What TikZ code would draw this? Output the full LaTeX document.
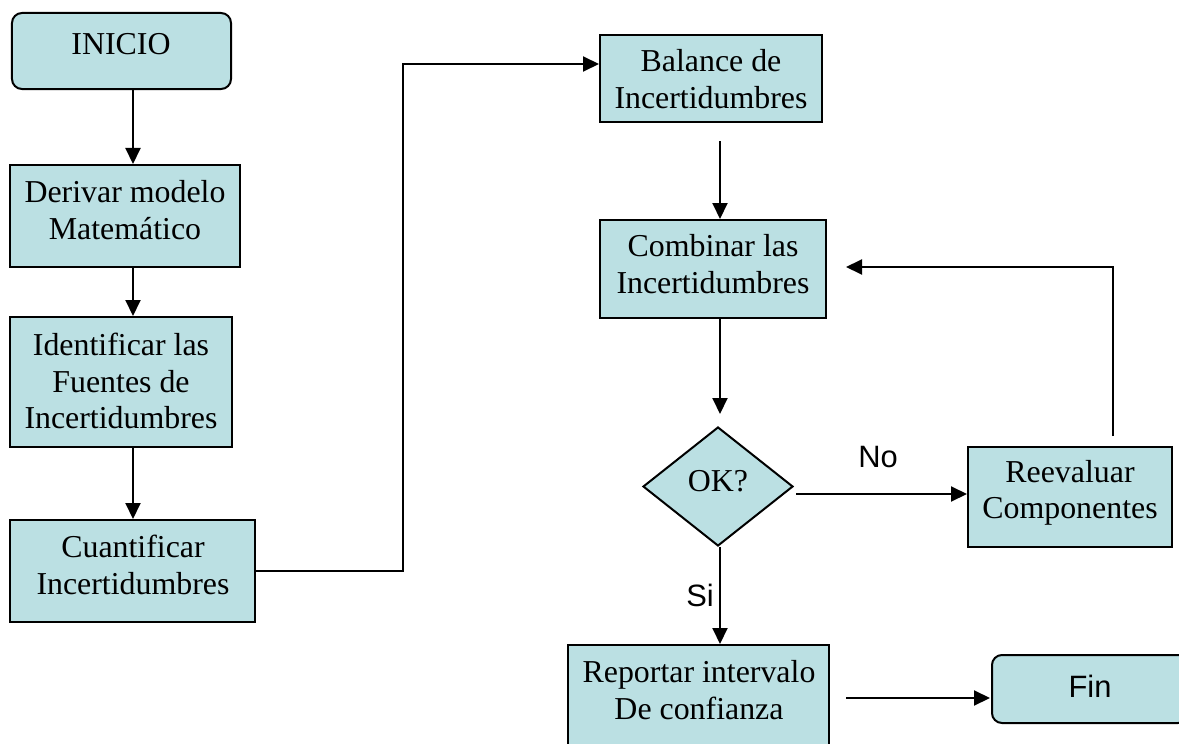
\documentclass[tikz,border=0pt]{standalone}
\usepackage{fontspec}
\setmainfont{Liberation Serif}
\setsansfont{Liberation Sans}
\usetikzlibrary{arrows.meta,shapes.geometric,calc}
\definecolor{boxfill}{RGB}{187,224,227}
\tikzset{
  box/.style={draw=black,fill=boxfill,line width=2bp,inner sep=0pt,rectangle},
  rbox/.style={box,rounded corners=10bp},
  dia/.style={draw=black,fill=boxfill,line width=2bp,inner sep=0pt,diamond},
  txt/.style={align=center,inner sep=0pt,font=\fontsize{32}{36.5}\selectfont},
  stxt/.style={inner sep=0pt,font=\sffamily\fontsize{31}{36}\selectfont},
  arr/.style={line width=2bp,-{Triangle[length=16bp,width=15bp]}},
  ln/.style={line width=2bp}
}
\begin{document}
\begin{tikzpicture}[x=1bp,y=-1bp]
\useasboundingbox (0,0) rectangle (1179,744);
\clip (0,0) rectangle (1179,744);
% boxes
\node[rbox,minimum width=219bp,minimum height=76bp] (inicio) at (121.5,51) {};
\node[box,minimum width=230bp,minimum height=102bp] (derivar) at (125,216) {};
\node[box,minimum width=222bp,minimum height=130bp] (ident) at (121,382) {};
\node[box,minimum width=245bp,minimum height=102bp] (cuant) at (132.5,571) {};
\node[box,minimum width=222bp,minimum height=87bp] (balance) at (711,78.5) {};
\node[box,minimum width=226bp,minimum height=98bp] (comb) at (713,269) {};
\node[dia,minimum width=150bp,minimum height=119bp] (ok) at (718,486.5) {};
\node[box,minimum width=204bp,minimum height=100bp] (reev) at (1070,497) {};
\node[box,minimum width=261bp,minimum height=150bp] (report) at (698.5,720) {};
\node[rbox,minimum width=196bp,minimum height=68bp] (fin) at (1090,689) {};
% texts
\node[txt] (tinicio) at (121,44) {INICIO};
\node[txt] (tderivar) at (125,210) {Derivar modelo\\Matemático};
\node[txt] (tident) at (121,381) {Identificar las\\Fuentes de\\Incertidumbres};
\node[txt] (tcuant) at (133,565) {Cuantificar\\Incertidumbres};
\node[txt] (tbalance) at (711,79) {Balance de\\Incertidumbres};
\node[txt] (tcomb) at (713,264) {Combinar las\\Incertidumbres};
\node[txt] (tok) at (718,481) {OK?};
\node[txt] (treev) at (1070,493) {Reevaluar\\Componentes};
\node[txt] (treport) at (699,690) {Reportar intervalo\\De confianza};
\node[stxt] (tfin) at (1090,686) {Fin};
\node[stxt] (tno) at (878,457) {No};
\node[stxt] (tsi) at (700,595) {Si};
% helper coordinates
\coordinate (xl) at (133,0);
\coordinate (xr) at (720,0);
\coordinate (xc) at (403,0);
\coordinate (yb) at (0,64);
\coordinate (yno) at (0,494);
\coordinate (xloop) at (1113,0);
\coordinate (yloop) at (0,267);
\coordinate (yrep) at (0,698);
% connectors
\draw[arr] (inicio.south -| xl) -- (derivar.north -| xl);
\draw[arr] (derivar.south -| xl) -- (ident.north -| xl);
\draw[arr] (ident.south -| xl) -- (cuant.north -| xl);
\draw[arr] (cuant.east) -- (cuant.east -| xc) -- (yb -| xc) -- (yb -| balance.west);
\draw[arr] ($(balance.south -| xr)+(0,18)$) -- (comb.north -| xr);
\draw[arr] (comb.south -| xr) -- ($(ok.north -| xr)+(0,-12)$);
\draw[arr] (ok.south -| xr) -- (report.north -| xr);
\draw[arr] ($(yno -| ok.east)+(2,0)$) -- (yno -| reev.west);
\draw[arr] ($(reev.north -| xloop)+(0,-10)$) -- (yloop -| xloop) -- ($(yloop -| comb.east)+(19,0)$);
\draw[arr] ($(yrep -| report.east)+(16,0)$) -- ($(yrep -| fin.west)+(-1,0)$);
\end{tikzpicture}
\end{document}
